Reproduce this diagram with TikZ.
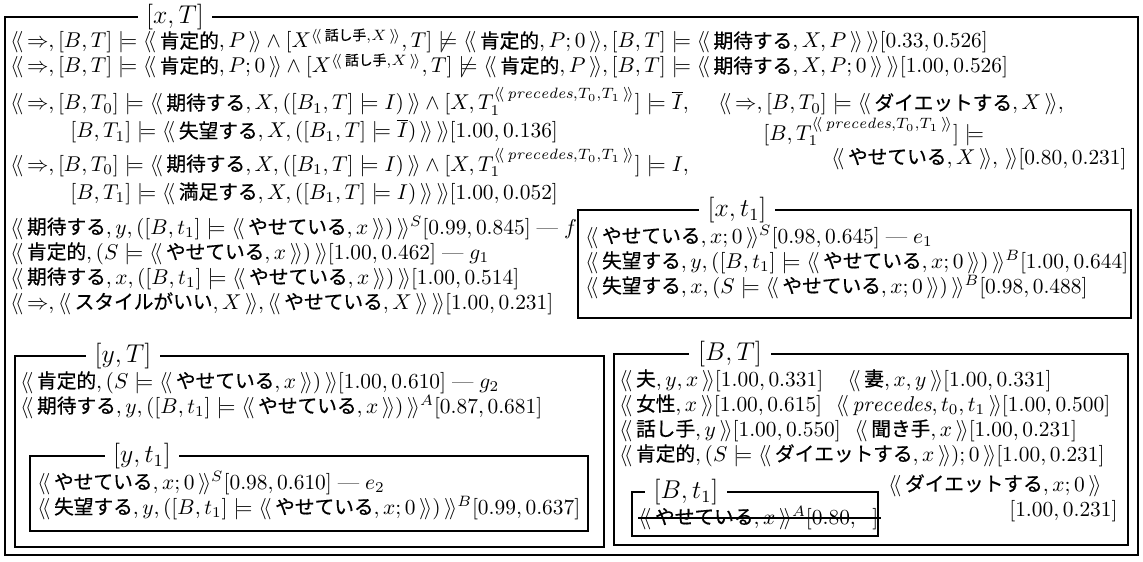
\documentclass[tikz,border=0pt]{standalone}
\usepackage{amsmath,amssymb}
\usepackage{fontspec}
\newfontfamily\jp[Scale=0.92,FakeBold=0.6]{Noto Sans CJK JP}
\newcommand{\J}[1]{\text{\jp #1}}
\newcommand{\dl}{\langle\!\langle\,}
\newcommand{\dr}{\,\rangle\!\rangle}
\newcommand{\prc}{\dl \mathit{precedes},T_0,T_1\dr}
\tikzset{
  txt/.style={anchor=base west, inner sep=0pt},
  txtr/.style={anchor=base east, inner sep=0pt},
  frame/.style={draw, line width=1pt},
  lbl/.style={fill=white, inner xsep=4pt, inner ysep=0pt, font=\large},
}
\begin{document}
\begin{tikzpicture}[x=0.467pt,y=-0.467pt]
\useasboundingbox (0,0) rectangle (1143,562);
% outer frame [x,T]
\draw[frame] (5,17) rectangle (1138,555);
\node[lbl] (LxT) at (175,17) {$[x,T]$};
\node[txt] (a1) at (10,48) {$\dl\Rightarrow,[B,T]\models\dl\J{肯定的},P\dr\wedge[X^{\dl\J{話し手},X\dr},T]\not\models\dl\J{肯定的},P;0\dr,[B,T]\models\dl\J{期待する},X,P\dr\dr[0.33,0.526]$};
\node[txt] (a2) at (10,73) {$\dl\Rightarrow,[B,T]\models\dl\J{肯定的},P;0\dr\wedge[X^{\dl\J{話し手},X\dr},T]\not\models\dl\J{肯定的},P\dr,[B,T]\models\dl\J{期待する},X,P;0\dr\dr[1.00,0.526]$};
\node[txt] (a3) at (10,110) {$\dl\Rightarrow,[B,T_0]\models\dl\J{期待する},X,([B_1,T]\models I)\dr\wedge[X,T_1^{\prc}]\models\overline{I},$};
\node[txt] (a4) at (70,138) {$[B,T_1]\models\dl\J{失望する},X,([B_1,T]\models\overline{I})\dr\dr[1.00,0.136]$};
\node[txt] (a5) at (10,171) {$\dl\Rightarrow,[B,T_0]\models\dl\J{期待する},X,([B_1,T]\models I)\dr\wedge[X,T_1^{\prc}]\models I,$};
\node[txt] (a6) at (70,199) {$[B,T_1]\models\dl\J{満足する},X,([B_1,T]\models I)\dr\dr[1.00,0.052]$};
\node[txt] (a7) at (10,234) {$\dl\J{期待する},y,([B,t_1]\models\dl\J{やせている},x\dr)\dr^S[0.99,0.845]\;\text{---}\;f$};
\node[txt] (a8) at (10,259) {$\dl\J{肯定的},(S\models\dl\J{やせている},x\dr)\dr[1.00,0.462]\;\text{---}\;g_1$};
\node[txt] (a9) at (10,284) {$\dl\J{期待する},x,([B,t_1]\models\dl\J{やせている},x\dr)\dr[1.00,0.514]$};
\node[txt] (a10) at (10,309) {$\dl\Rightarrow,\dl\J{スタイルがいい},X\dr,\dl\J{やせている},X\dr\dr[1.00,0.231]$};
% right block
\node[txt] (r1) at (718,110) {$\dl\Rightarrow,[B,T_0]\models\dl\J{ダイエットする},X\dr,$};
\node[txt] (r2) at (763,140) {$[B,T_1^{\prc}]\models$};
\node[txtr] (r3) at (1127,164) {$\dl\J{やせている},X\dr,\dr[0.80,0.231]$};
% box [x,t1]
\draw[frame] (578,210) rectangle (1131,318);
\node[lbl] (Lxt) at (737,210) {$[x,t_1]$};
\node[txt] (b1) at (585,243) {$\dl\J{やせている},x;0\dr^S[0.98,0.645]\;\text{---}\;e_1$};
\node[txt] (b2) at (585,268) {$\dl\J{失望する},y,([B,t_1]\models\dl\J{やせている},x;0\dr)\dr^B[1.00,0.644]$};
\node[txt] (b3) at (585,293) {$\dl\J{失望する},x,(S\models\dl\J{やせている},x;0\dr)\dr^B[0.98,0.488]$};
% box [y,T]
\draw[frame] (15,356) rectangle (604,547);
\node[lbl] (LyT) at (123,356) {$[y,T]$};
\node[txt] (c1) at (20,388) {$\dl\J{肯定的},(S\models\dl\J{やせている},x\dr)\dr[1.00,0.610]\;\text{---}\;g_2$};
\node[txt] (c2) at (20,413) {$\dl\J{期待する},y,([B,t_1]\models\dl\J{やせている},x\dr)\dr^A[0.87,0.681]$};
% box [y,t1]
\draw[frame] (30,456) rectangle (588,531);
\node[lbl] (Lyt) at (142,456) {$[y,t_1]$};
\node[txt] (d1) at (37,489) {$\dl\J{やせている},x;0\dr^S[0.98,0.610]\;\text{---}\;e_2$};
\node[txt] (d2) at (37,514) {$\dl\J{失望する},y,([B,t_1]\models\dl\J{やせている},x;0\dr)\dr^B[0.99,0.637]$};
% box [B,T]
\draw[frame] (614,354) rectangle (1128,545);
\node[lbl] (LBT) at (730,354) {$[B,T]$};
\node[txt] (e1) at (619,386) {$\dl\J{夫},y,x\dr[1.00,0.331]$};
\node[txt] (e2) at ([xshift=11pt]e1.base east) {$\dl\J{妻},x,y\dr[1.00,0.331]$};
\node[txt] (e3) at (619,411) {$\dl\J{女性},x\dr[1.00,0.615]$};
\node[txt] (e4) at ([xshift=6pt]e3.base east) {$\dl\mathit{precedes},t_0,t_1\dr[1.00,0.500]$};
\node[txt] (e5) at (619,436) {$\dl\J{話し手},y\dr[1.00,0.550]$};
\node[txt] (e6) at ([xshift=6pt]e5.base east) {$\dl\J{聞き手},x\dr[1.00,0.231]$};
\node[txt] (e7) at (619,461) {$\dl\J{肯定的},(S\models\dl\J{ダイエットする},x\dr);0\dr[1.00,0.231]$};
\node[txt] (e8) at (888,491) {$\dl\J{ダイエットする},x;0\dr$};
\node[txtr] (e9) at (1118,516) {$[1.00,0.231]$};
% box [B,t1]
\draw[frame] (632,492) rectangle (878,536);
\node[lbl] (LBt) at (686,492) {$[B,t_1]$};
\node[txt] (f1) at (638,524) {$\dl\J{やせている},x\dr^A[0.80,\hspace{0.6em}]$};
\draw[line width=1pt] ([yshift=3pt]f1.base west) -- ([yshift=3pt,xshift=1pt]f1.base east);
\end{tikzpicture}
\end{document}
